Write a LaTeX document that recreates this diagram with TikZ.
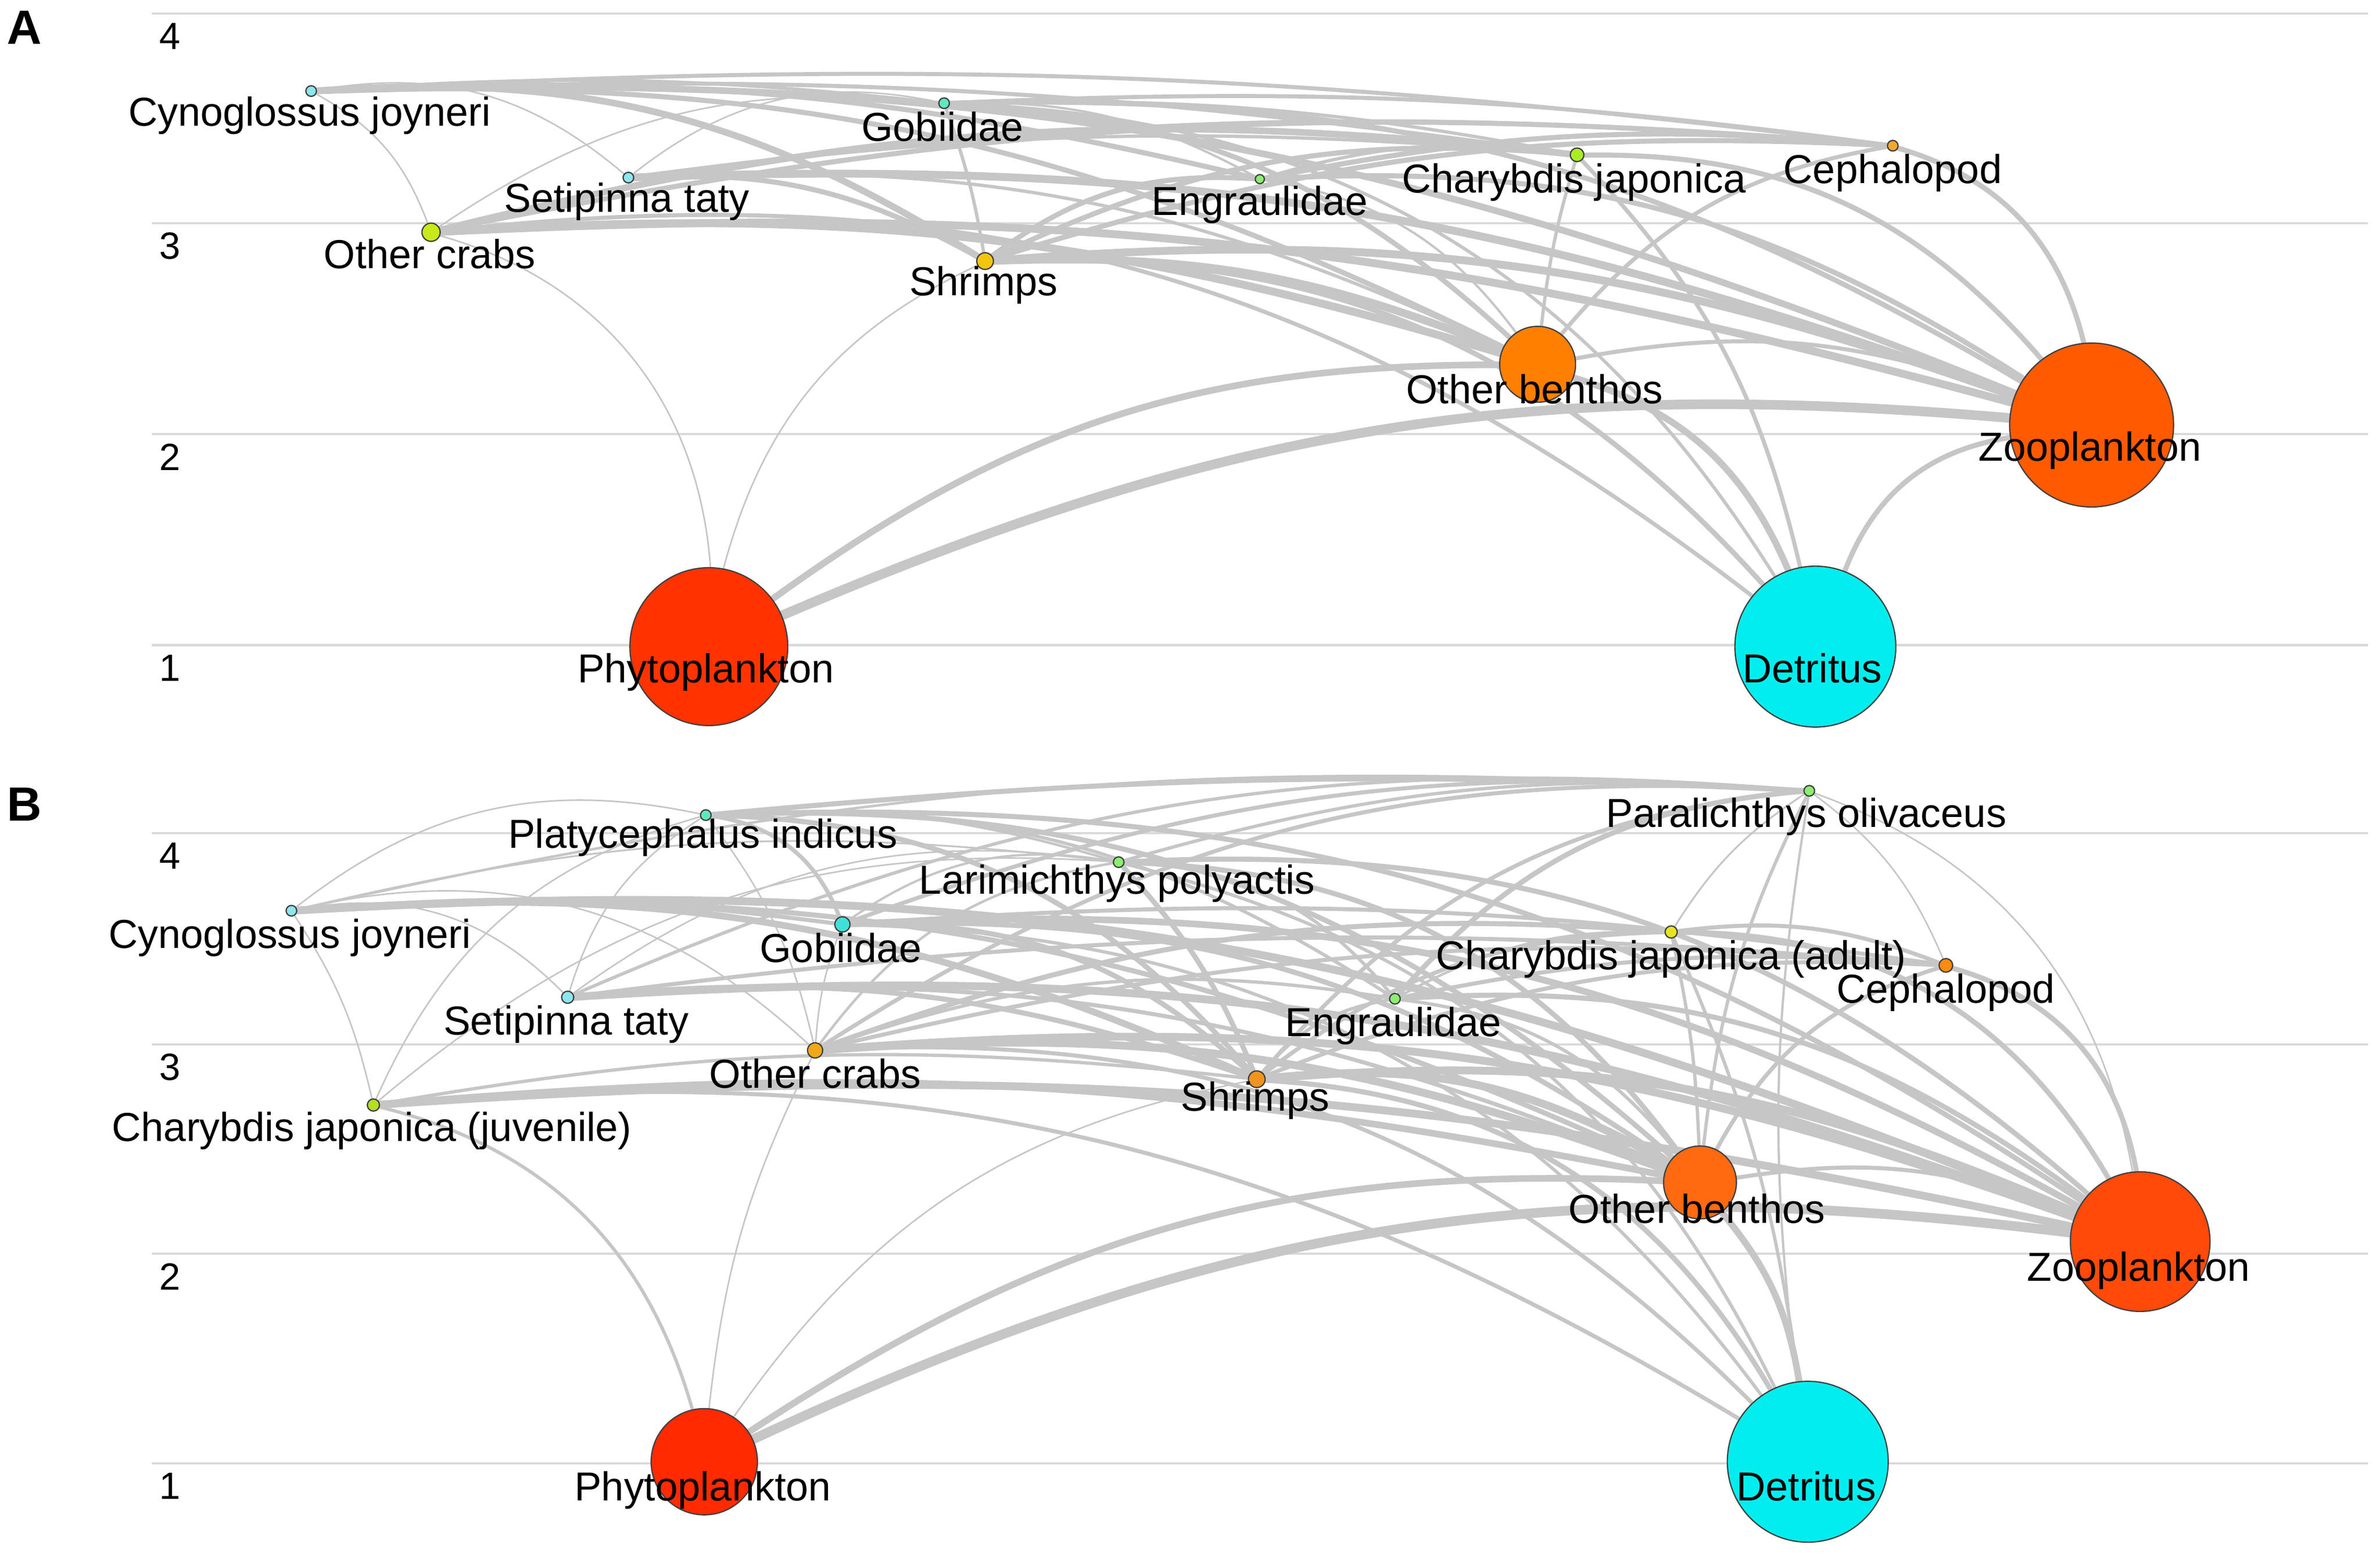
\documentclass[tikz,border=0pt]{standalone}
\usepackage{fontspec}
\setmainfont{Liberation Sans}
\pgfdeclarelayer{grid}
\pgfdeclarelayer{edges}
\pgfsetlayers{grid,edges,main}

\definecolor{flowgray}{HTML}{C6C6C6}
\definecolor{gridgray}{HTML}{D9D9D9}
\definecolor{cyanfish}{HTML}{8CE6EE}
\definecolor{tealfish}{HTML}{5EE8C0}
\definecolor{greenfish}{HTML}{8CEE70}
\definecolor{limecrab}{HTML}{A8EE22}
\definecolor{yellowcrab}{HTML}{C8EA18}
\definecolor{goldshrimp}{HTML}{F2C60E}
\definecolor{orangecep}{HTML}{F0A830}
\definecolor{benthosA}{HTML}{FF8000}
\definecolor{zooA}{HTML}{FF5A00}
\definecolor{phyA}{HTML}{FF3300}
\definecolor{detcyan}{HTML}{00EEEE}
\definecolor{gobB}{HTML}{40E0D8}
\definecolor{adultcrab}{HTML}{E6E620}
\definecolor{juvcrab}{HTML}{B0E020}
\definecolor{crabB}{HTML}{F0A818}
\definecolor{shrimpB}{HTML}{F09420}
\definecolor{cepB}{HTML}{FF8A10}
\definecolor{benthosB}{HTML}{FF6A10}
\definecolor{zooB}{HTML}{FF4A0A}
\definecolor{phyB}{HTML}{FF2A00}

\tikzset{
  flow/.style={draw=flowgray, line cap=round},
  sp/.style={circle, draw=black!75, line width=0.25pt, inner sep=0pt},
  tag/.style={font=\fontsize{8}{9}\selectfont, inner sep=0pt, text height=7pt, text depth=1.7pt},
  lvl/.style={font=\fontsize{7.5}{9}\selectfont, inner sep=0pt},
  panel/.style={font=\bfseries\fontsize{9.5}{10}\selectfont, inner sep=0pt},
  level line/.style={draw=gridgray, line width=0.45pt}
}

\begin{document}
\begin{tikzpicture}[x=0.3pt,y=0.3pt]
    \useasboundingbox (0,0) rectangle (1568,-1029);
    \begin{pgfonlayer}{grid}
        \fill[white] (0,0) rectangle (1568,-1029);
        \foreach \y/\n in {9/4,147/3,286/2,425/1,549/4,688/3,826/2,964/1}
            {
                \draw[level line] (100,-\y) -- (1560,-\y);
                \node[lvl] (lv\y) at (112,-\y-15) {\n};
            }
    \end{pgfonlayer}

    \node[panel] (pA) at (16,-18) {A};
    \node[panel] (pB) at (16,-530) {B};

    % panel A
    \node[sp, minimum size=2.1pt, fill=cyanfish] (cjA) at (205,-60) {};
    \node[sp, minimum size=2.1pt, fill=tealfish] (gobA) at (622,-68) {};
    \node[sp, minimum size=2.1pt, fill=cyanfish] (setA) at (414,-117) {};
    \node[sp, minimum size=1.8pt, fill=greenfish] (engA) at (830,-118) {};
    \node[sp, minimum size=2.7pt, fill=limecrab] (chaA) at (1039,-102) {};
    \node[sp, minimum size=2.1pt, fill=orangecep] (cepA) at (1247,-96) {};
    \node[sp, minimum size=3.6pt, fill=yellowcrab] (ocrA) at (284,-153) {};
    \node[sp, minimum size=3.3pt, fill=goldshrimp] (shrA) at (649,-172) {};
    \node[sp, minimum size=15pt, fill=benthosA] (obeA) at (1013,-240) {};
    \node[sp, minimum size=32.4pt, fill=zooA] (zooA) at (1378,-280) {};
    \node[sp, minimum size=31.2pt, fill=phyA] (phyA) at (467,-426) {};
    \node[sp, minimum size=31.8pt, fill=detcyan] (detA) at (1196,-426) {};

    % panel B
    \node[sp, minimum size=2.1pt, fill=tealfish] (plaB) at (465,-537) {};
    \node[sp, minimum size=2.1pt, fill=greenfish] (parB) at (1192,-521) {};
    \node[sp, minimum size=2.1pt, fill=greenfish] (larB) at (737,-568) {};
    \node[sp, minimum size=2.1pt, fill=cyanfish] (cjB) at (192,-600) {};
    \node[sp, minimum size=3pt, fill=gobB] (gobB) at (555,-609) {};
    \node[sp, minimum size=2.4pt, fill=adultcrab] (chadB) at (1101,-614) {};
    \node[sp, minimum size=2.7pt, fill=cepB] (cepB) at (1282,-636) {};
    \node[sp, minimum size=2.4pt, fill=cyanfish] (setB) at (374,-657) {};
    \node[sp, minimum size=2.1pt, fill=greenfish] (engB) at (919,-658) {};
    \node[sp, minimum size=3pt, fill=crabB] (ocrB) at (537,-692) {};
    \node[sp, minimum size=3.3pt, fill=shrimpB] (shrB) at (828,-711) {};
    \node[sp, minimum size=2.4pt, fill=juvcrab] (chjB) at (246,-728) {};
    \node[sp, minimum size=14.4pt, fill=benthosB] (obeB) at (1120,-779) {};
    \node[sp, minimum size=27.6pt, fill=zooB] (zooB) at (1410,-818) {};
    \node[sp, minimum size=21pt, fill=phyB] (phyB) at (464,-963) {};
    \node[sp, minimum size=31.8pt, fill=detcyan] (detB) at (1191,-963) {};

    \begin{pgfonlayer}{edges}
        \foreach \a/\b/\w/\c in {phyA/zooA/1.9pt/14, phyA/obeA/1.3pt/18, ocrA/phyA/0.3pt/35,
            phyA/shrA/0.3pt/25, detA/zooA/1.0pt/30, chaA/detA/0.8pt/15, obeA/detA/1.3pt/25,
            shrA/detA/1.0pt/25, ocrA/detA/0.8pt/22, gobA/detA/0.65pt/28, cjA/zooA/1.3pt/12,
            gobA/zooA/1.0pt/16, setA/zooA/1.55pt/11, engA/zooA/1.0pt/18, chaA/zooA/1.0pt/25,
            cepA/zooA/1.0pt/30, ocrA/zooA/1.55pt/9, shrA/zooA/1.55pt/12, obeA/zooA/0.8pt/15,
            cjA/obeA/1.0pt/14, gobA/obeA/1.0pt/20, setA/obeA/0.65pt/14, engA/obeA/0.45pt/22,
            ocrA/obeA/1.55pt/10, shrA/obeA/1.55pt/12, obeA/chaA/0.65pt/5, obeA/cepA/0.8pt/20,
            cjA/shrA/1.3pt/18, gobA/shrA/0.65pt/5, setA/shrA/1.0pt/16, shrA/engA/1.0pt/20,
            shrA/chaA/1.0pt/15, shrA/cepA/1.0pt/10, cjA/ocrA/0.3pt/20, ocrA/gobA/0.3pt/20,
            ocrA/chaA/1.3pt/10, ocrA/cepA/1.0pt/8, cjA/setA/0.3pt/25, setA/gobA/0.3pt/25,
            setA/cepA/0.8pt/6, setA/chaA/0.65pt/6, cjA/engA/1.0pt/8, gobA/engA/0.45pt/15,
            engA/cepA/1.0pt/8, engA/chaA/0.65pt/12, cjA/gobA/0.65pt/5, gobA/cepA/0.8pt/5,
            gobA/chaA/0.65pt/6, cjA/cepA/0.8pt/5, cjA/chaA/0.8pt/5}
            {
                \draw[flow, line width=\w] (\a) to[bend left=\c] (\b);
            }

        \foreach \a/\b/\w/\c in {cjB/zooB/1.55pt/13, gobB/zooB/1.3pt/16, setB/zooB/1.55pt/12,
            engB/zooB/1.0pt/20, chadB/zooB/1.0pt/30, cepB/zooB/1.0pt/32, ocrB/zooB/1.55pt/12,
            shrB/zooB/1.55pt/14, chjB/zooB/1.55pt/8, plaB/zooB/1.0pt/18, larB/zooB/1.0pt/22,
            parB/zooB/0.3pt/30, obeB/zooB/0.8pt/15, obeB/detB/1.3pt/15, shrB/detB/1.0pt/28,
            ocrB/detB/0.8pt/24, chjB/detB/0.8pt/18, chadB/detB/0.65pt/8, detB/parB/0.45pt/8,
            gobB/detB/0.65pt/26, larB/detB/0.65pt/25, phyB/zooB/1.9pt/16, phyB/obeB/1.3pt/18,
            chjB/phyB/0.65pt/30, phyB/ocrB/0.3pt/10, phyB/shrB/0.3pt/22, cjB/obeB/1.0pt/14,
            gobB/obeB/1.0pt/18, setB/obeB/0.8pt/13, larB/obeB/1.0pt/26, chadB/obeB/0.65pt/5,
            obeB/cepB/0.8pt/22, ocrB/obeB/1.55pt/12, shrB/obeB/1.55pt/18, chjB/obeB/1.3pt/8,
            engB/obeB/0.65pt/22, plaB/obeB/1.0pt/22, obeB/parB/0.65pt/10, cjB/shrB/1.3pt/14,
            gobB/shrB/1.0pt/22, plaB/shrB/1.0pt/24, larB/shrB/1.0pt/10, setB/shrB/1.0pt/12,
            shrB/engB/0.65pt/20, shrB/chadB/0.8pt/18, shrB/cepB/0.8pt/12, shrB/parB/0.8pt/22,
            chjB/shrB/0.65pt/8, cjB/ocrB/0.3pt/28, ocrB/gobB/0.3pt/8, plaB/ocrB/0.3pt/12,
            ocrB/larB/0.5pt/22, ocrB/chadB/1.0pt/12, ocrB/cepB/0.8pt/9, ocrB/parB/0.8pt/18,
            ocrB/engB/0.65pt/14, cjB/setB/0.3pt/28, setB/plaB/0.3pt/20, setB/larB/0.3pt/22,
            setB/parB/0.65pt/14, setB/cepB/0.8pt/6, plaB/gobB/0.8pt/30, cjB/gobB/0.8pt/6,
            gobB/larB/0.45pt/22, gobB/parB/0.8pt/12, gobB/cepB/0.8pt/6, plaB/engB/0.65pt/18,
            larB/engB/0.65pt/24, engB/cepB/0.8pt/8, engB/parB/1.0pt/22, engB/chadB/0.5pt/15,
            cjB/chjB/0.3pt/10, chjB/plaB/0.3pt/25, chjB/larB/0.3pt/22, cjB/plaB/0.3pt/25,
            cjB/parB/0.5pt/8, cjB/larB/0.35pt/10, plaB/larB/0.5pt/10, larB/parB/0.65pt/10,
            plaB/parB/1.0pt/4, parB/cepB/0.3pt/15, chadB/parB/0.35pt/12, chadB/cepB/0.8pt/14}
            {
                \draw[flow, line width=\w] (\a) to[bend left=\c] (\b);
            }
    \end{pgfonlayer}

    % labels A
    \node[tag] (cjA-t) at (204,-74) {Cynoglossus joyneri};
    \node[tag] (gobA-t) at (621,-84) {Gobiidae};
    \node[tag] (setA-t) at (413,-131) {Setipinna taty};
    \node[tag] (engA-t) at (830,-133) {Engraulidae};
    \node[tag] (chaA-t) at (1037,-118) {Charybdis japonica};
    \node[tag] (cepA-t) at (1247,-112) {Cephalopod};
    \node[tag] (ocrA-t) at (283,-168) {Other crabs};
    \node[tag] (shrA-t) at (648,-186) {Shrimps};
    \node[tag] (obeA-t) at (1011,-257) {Other benthos};
    \node[tag] (zooA-t) at (1377,-295) {Zooplankton};
    \node[tag] (phyA-t) at (465,-441) {Phytoplankton};
    \node[tag] (detA-t) at (1194,-441) {Detritus};

    % labels B
    \node[tag] (plaB-t) at (463,-550) {Platycephalus indicus};
    \node[tag] (parB-t) at (1190,-536) {Paralichthys olivaceus};
    \node[tag] (larB-t) at (736,-580) {Larimichthys polyactis};
    \node[tag] (cjB-t) at (191,-616) {Cynoglossus joyneri};
    \node[tag] (gobB-t) at (554,-625) {Gobiidae};
    \node[tag] (chadB-t) at (1101,-630) {Charybdis japonica (adult)};
    \node[tag] (cepB-t) at (1282,-652) {Cephalopod};
    \node[tag] (setB-t) at (373,-673) {Setipinna taty};
    \node[tag] (engB-t) at (918,-674) {Engraulidae};
    \node[tag] (ocrB-t) at (537,-708) {Other crabs};
    \node[tag] (shrB-t) at (827,-723) {Shrimps};
    \node[tag] (chjB-t) at (245,-743) {Charybdis japonica (juvenile)};
    \node[tag] (obeB-t) at (1118,-797) {Other benthos};
    \node[tag] (zooB-t) at (1409,-835) {Zooplankton};
    \node[tag] (phyB-t) at (463,-980) {Phytoplankton};
    \node[tag] (detB-t) at (1190,-980) {Detritus};
\end{tikzpicture}
\end{document}
